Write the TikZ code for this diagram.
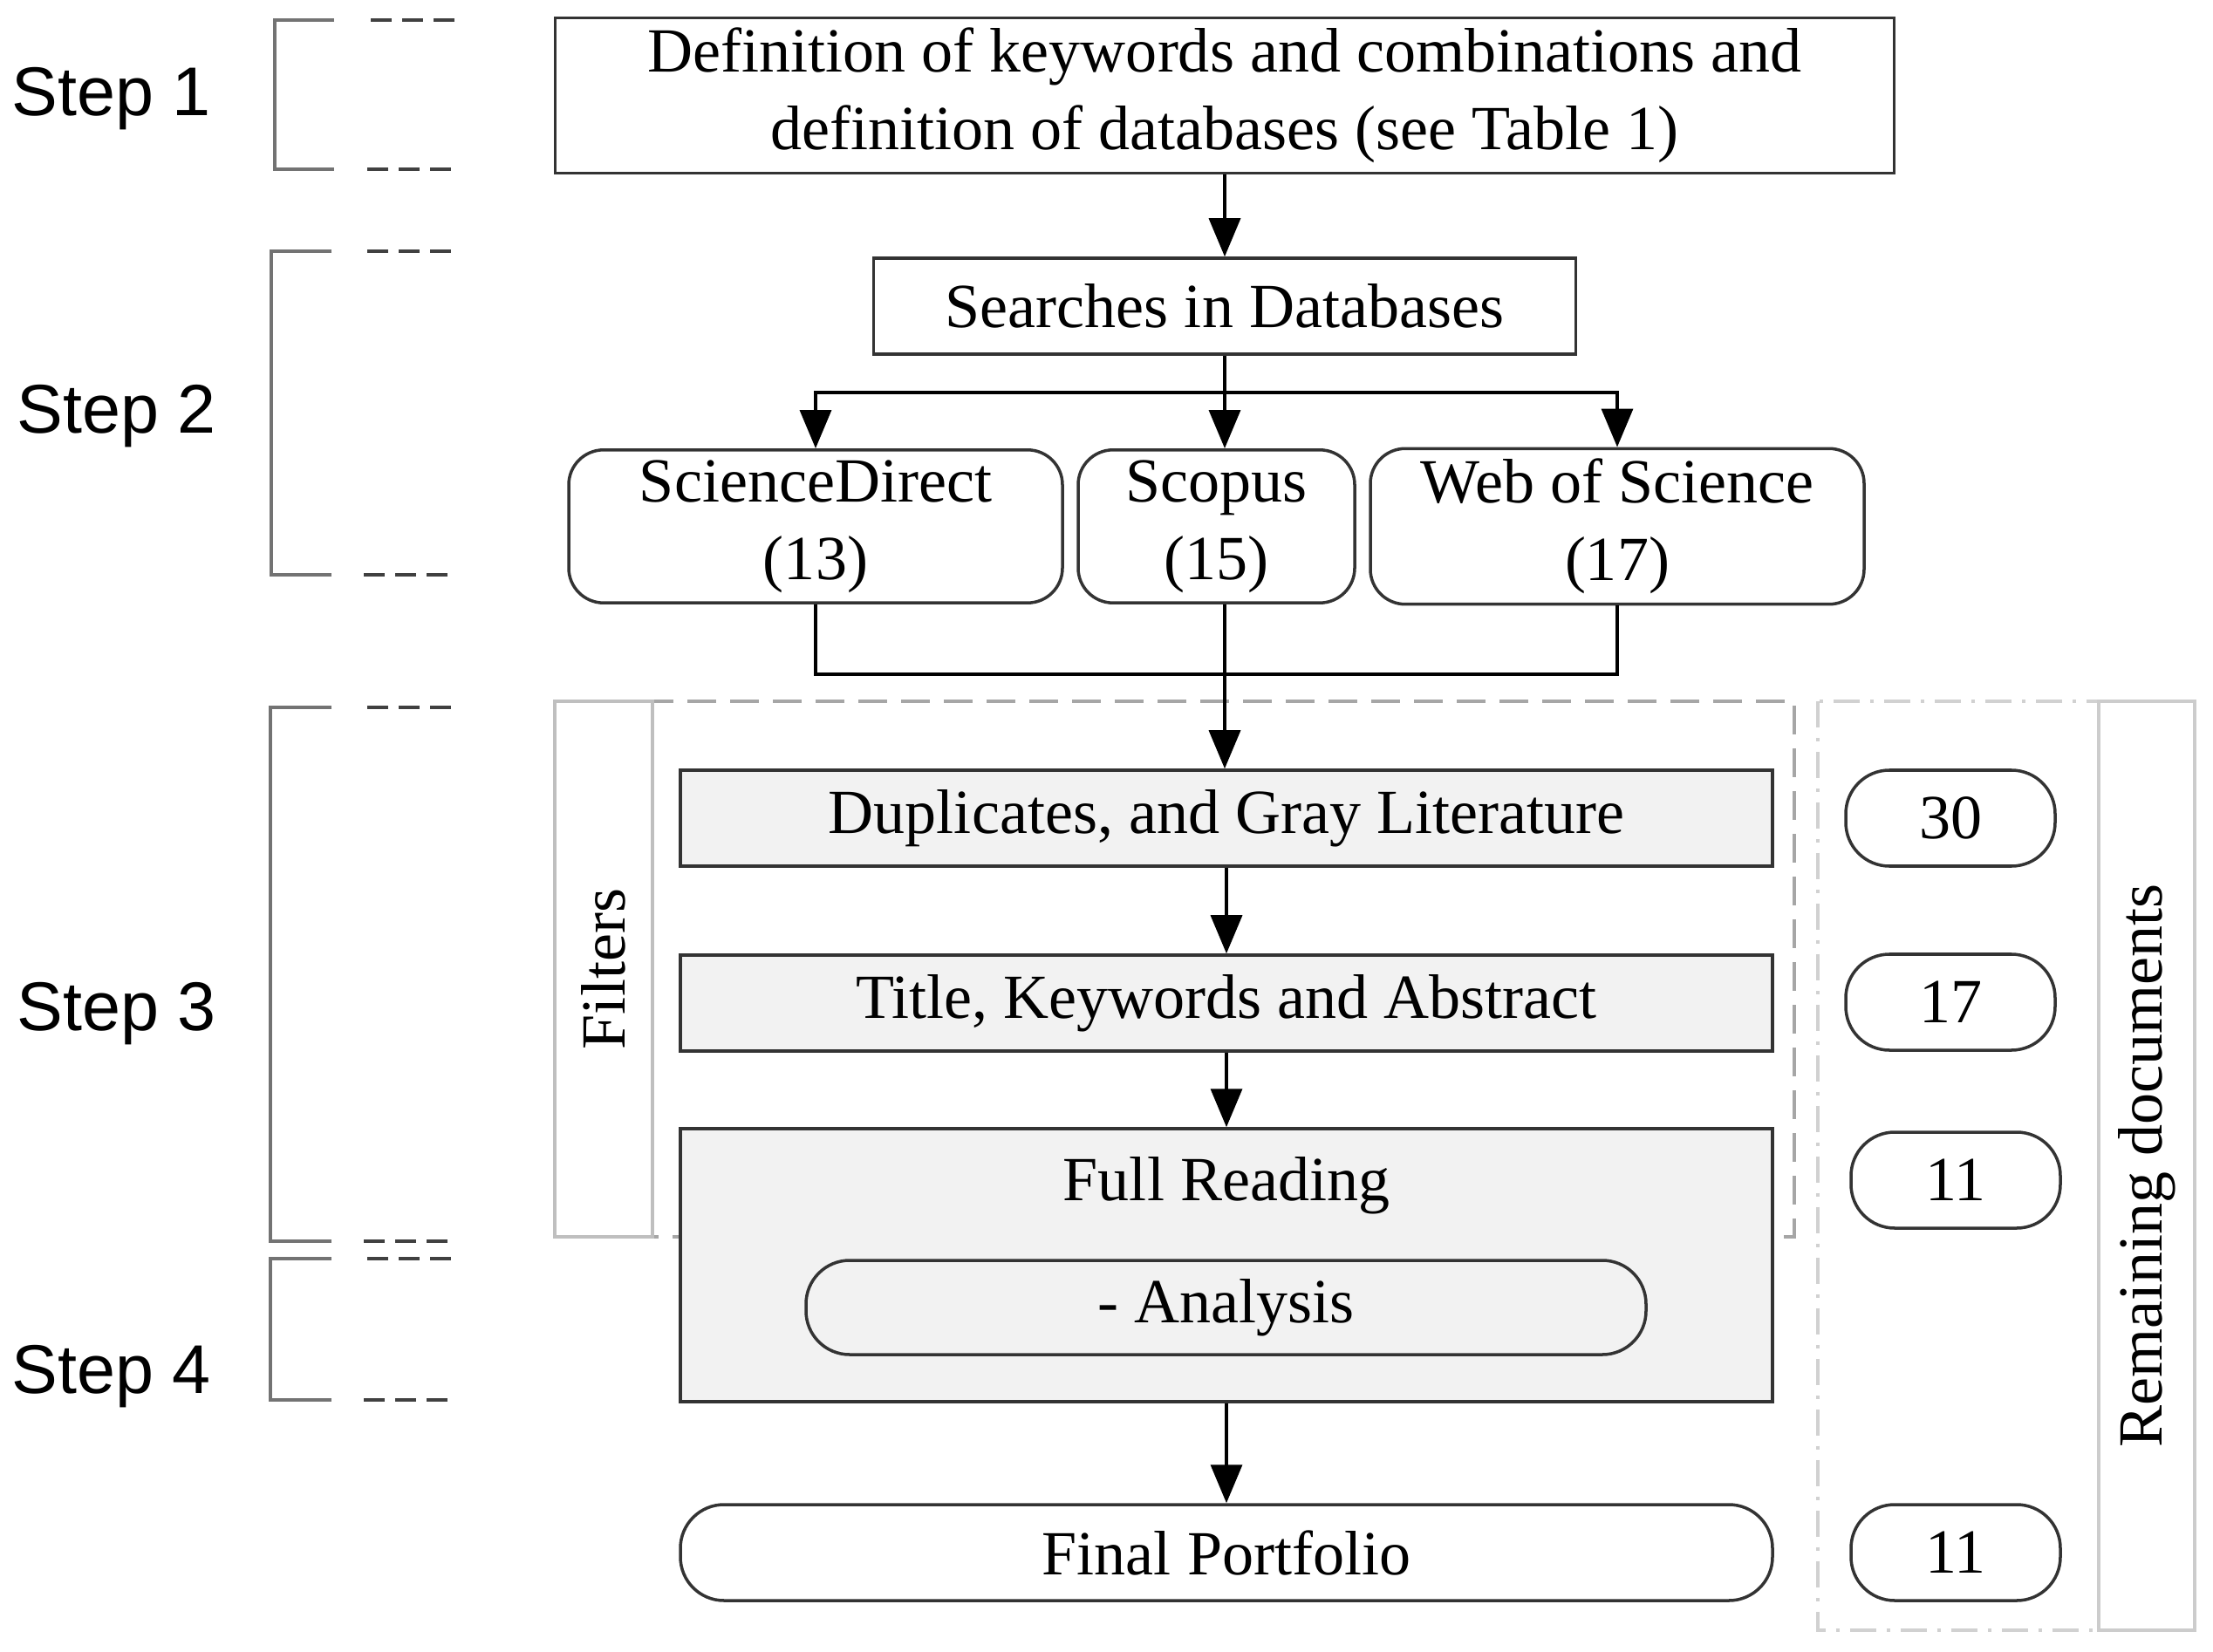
\documentclass[tikz,border=0pt]{standalone}
\usepackage{fontspec}
\setmainfont{Liberation Serif}
\newfontfamily\stepfont{Liberation Sans}
\usetikzlibrary{arrows.meta, positioning}

\begin{document}
\begin{tikzpicture}[
            box/.style={draw=black!80, line width=1pt, rectangle, align=center, font=\fontsize{20.5}{25.3}\selectfont},
            greybox/.style={box, fill=black!5},
            roundbox/.style={box, rounded corners=0.4cm},
            countbox/.style={box, rounded corners=0.5cm, minimum width=2.4cm, minimum height=1.1cm},
            panel/.style={rotate=90, align=center, line width=1.2pt, font=\fontsize{20.5}{25.3}\selectfont},
            steplabel/.style={anchor=west, font=\stepfont\fontsize{22.5}{27}\selectfont},
            arr/.style={-{Triangle[width=3.6mm,length=4.4mm]}, line width=1pt},
            link/.style={line width=1pt},
            bracket/.style={draw=black!55, line width=1.1pt},
            stepdash/.style={black!75, line width=1.1pt, dash pattern=on 0.24cm off 0.12cm}
        ]
            \useasboundingbox (0,0) rectangle (25.37,-18.94);

            \draw[black!35, line width=1pt, dash pattern=on 0.33cm off 0.16cm] (7.48,-8.04) rectangle (20.57,-14.18);
            \draw[black!18, line width=1.2pt, dash pattern=on 0.3cm off 0.12cm on 0.04cm off 0.12cm] (20.84,-8.04) rectangle (24.06,-18.69);
            \node[panel, draw=black!25, minimum width=6.14cm, minimum height=1.12cm] (filters) at (6.92,-11.11) {Filters};
            \node[panel, draw=black!20, minimum width=10.65cm, minimum height=1.10cm] (remain) at (24.61,-13.365) {Remaining documents};

            \node[box, minimum width=15.35cm, minimum height=1.73cm] (def) at (14.04,-1.095) {Definition of keywords and combinations and\\definition of databases (see Table 1)};
            \node[box, minimum width=8.05cm, minimum height=1.10cm] (search) at (14.04,-3.51) {Searches in Databases};
            \node[roundbox, minimum width=5.66cm, minimum height=1.71cm] (sd) at (9.35,-6.035) {ScienceDirect\\(13)};
            \node[roundbox, minimum width=3.17cm, minimum height=1.71cm] (scopus) at (13.945,-6.035) {Scopus\\(15)};
            \node[roundbox, minimum width=5.66cm, minimum height=1.71cm] (wos) at (18.54,-6.035) {Web of Science\\(17)};

            \node[greybox, minimum width=12.52cm, minimum height=1.10cm] (dup) at (14.06,-9.38) {Duplicates, and Gray Literature};
            \node[greybox, minimum width=12.52cm, minimum height=1.10cm] (title) at (14.06,-11.50) {Title, Keywords and Abstract};
            \node[greybox, minimum width=12.52cm, minimum height=3.13cm] (full) at (14.06,-14.505) {};
            \node[font=\fontsize{20.5}{25.3}\selectfont] (fulltxt) at (14.06,-13.59) {Full Reading};
            \node[box, rounded corners=0.5cm, minimum width=9.63cm, minimum height=1.08cm] (ana) at (14.055,-14.99) {- Analysis};
            \node[box, rounded corners=0.5cm, minimum width=12.52cm, minimum height=1.10cm] (final) at (14.06,-17.80) {Final Portfolio};

            \node[countbox] (n30) at (22.36,-9.38) {30};
            \node[countbox] (n17) at (22.36,-11.49) {17};
            \node[countbox] (n11a) at (22.42,-13.53) {11};
            \node[countbox] (n11b) at (22.42,-17.80) {11};

            \coordinate (split) at (14.04,-4.50);
            \coordinate (merge) at (14.04,-7.73);
            \draw[arr] (def) -- (search);
            \draw[link] (search.south) -- (split);
            \draw[arr] (split) -| (sd.north);
            \draw[arr] (split) -| (wos.north);
            \draw[arr] (split) -- (split |- scopus.north);
            \draw[link] (sd.south) |- (merge) -| (wos.south);
            \draw[arr] (split |- scopus.south) -- (split |- dup.north);
            \draw[arr] (dup) -- (title);
            \draw[arr] (title) -- (full);
            \draw[arr] (full) -- (final);

            \node[steplabel] (s1) at (0.01,-1.13) {Step 1};
            \node[steplabel] (s2) at (0.07,-4.77) {Step 2};
            \node[steplabel] (s3) at (0.07,-11.62) {Step 3};
            \node[steplabel] (s4) at (0.01,-15.78) {Step 4};

            \draw[bracket] (3.83,-0.23) -| (3.15,-1.94) -- (3.83,-1.94);
            \draw[bracket] (3.80,-2.88) -| (3.11,-6.59) -- (3.80,-6.59);
            \draw[bracket] (3.80,-8.11) -| (3.10,-14.23) -- (3.80,-14.23);
            \draw[bracket] (3.80,-14.43) -| (3.10,-16.05) -- (3.80,-16.05);
            \draw[stepdash] (4.25,-0.23) -- (5.22,-0.23);
            \draw[stepdash] (4.21,-1.94) -- (5.18,-1.94);
            \draw[stepdash] (4.21,-2.88) -- (5.18,-2.88);
            \draw[stepdash] (4.17,-6.59) -- (5.14,-6.59);
            \draw[stepdash] (4.21,-8.11) -- (5.18,-8.11);
            \draw[stepdash] (4.17,-14.23) -- (5.14,-14.23);
            \draw[stepdash] (4.21,-14.43) -- (5.18,-14.43);
            \draw[stepdash] (4.17,-16.05) -- (5.14,-16.05);
        \end{tikzpicture}
\end{document}
